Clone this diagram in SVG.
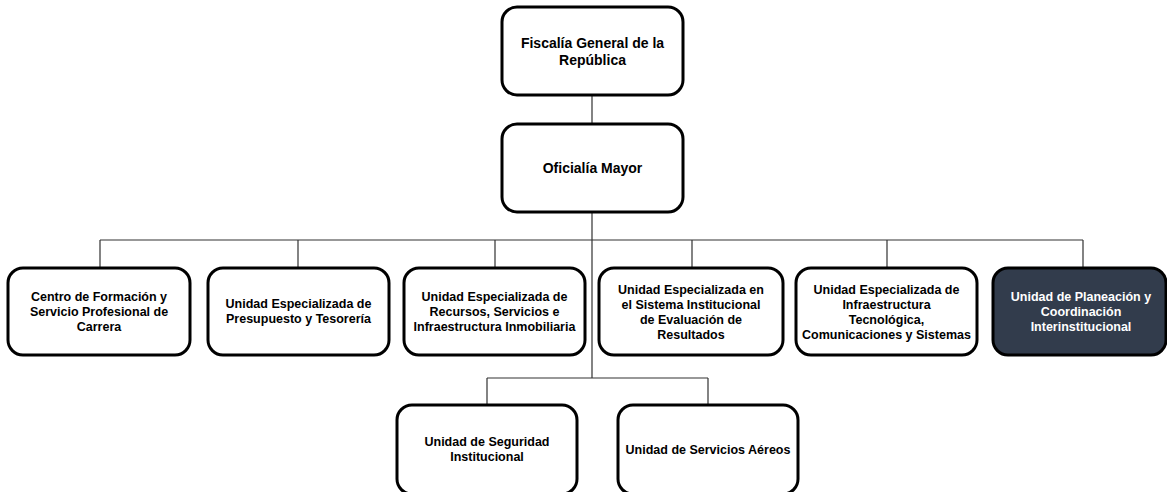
<svg xmlns="http://www.w3.org/2000/svg" width="1167" height="492" viewBox="0 0 1167 492">
<style>
.box{fill:#fff;stroke:#000;stroke-width:3}
.dark{fill:#323c4c;stroke:#000;stroke-width:3}
.t{font-family:"Liberation Sans",Arial,sans-serif;font-weight:bold;font-size:12.5px;text-anchor:middle;fill:#000}
.big{font-size:14px}
.w{fill:#fff}
.c{fill:none;stroke:#333;stroke-width:1.2}
</style>
<rect width="1167" height="492" fill="#fff"/>
<g id="connectors">
<path class="c" d="M592 95V123M592 212V378M100 240H1083M100 240V267M298 240V267M495 240V267M692 240V267M887 240V267M1083 240V267M487 378H708M487 378V405M708 378V405"/>
</g>
<g id="n1"><rect class="box" x="502" y="7" width="181" height="88" rx="15"/>
<text class="t big" x="592.5" y="48">Fiscalía General de la</text><text class="t big" x="592.5" y="65">República</text></g>
<g id="n2"><rect class="box" x="502" y="124" width="181" height="88" rx="15"/>
<text class="t big" x="592.5" y="173">Oficialía Mayor</text></g>
<g id="n3"><rect class="box" x="8" y="268" width="182" height="87" rx="15"/>
<text class="t" x="99" y="301">Centro de Formación y</text><text class="t" x="99" y="316">Servicio Profesional de</text><text class="t" x="99" y="331">Carrera</text></g>
<g id="n4"><rect class="box" x="208" y="268" width="181" height="87" rx="15"/>
<text class="t" x="298.5" y="308">Unidad Especializada de</text><text class="t" x="298.5" y="323">Presupuesto y Tesorería</text></g>
<g id="n5"><rect class="box" x="404" y="268" width="181" height="87" rx="15"/>
<text class="t" x="494.5" y="301">Unidad Especializada de</text><text class="t" x="494.5" y="316">Recursos, Servicios e</text><text class="t" x="494.5" y="331">Infraestructura Inmobiliaria</text></g>
<g id="n6"><rect class="box" x="599" y="268" width="184" height="87" rx="15"/>
<text class="t" x="691" y="294">Unidad Especializada en</text><text class="t" x="691" y="309">el Sistema Institucional</text><text class="t" x="691" y="324">de Evaluación de</text><text class="t" x="691" y="339">Resultados</text></g>
<g id="n7"><rect class="box" x="796" y="268" width="181" height="87" rx="15"/>
<text class="t" x="886.5" y="294">Unidad Especializada de</text><text class="t" x="886.5" y="309">Infraestructura</text><text class="t" x="886.5" y="324">Tecnológica,</text><text class="t" x="886.5" y="339">Comunicaciones y Sistemas</text></g>
<g id="n8"><rect class="dark" x="993" y="268" width="173" height="87" rx="15"/>
<text class="t w" x="1081" y="301">Unidad de Planeación y</text><text class="t w" x="1081" y="316">Coordinación</text><text class="t w" x="1081" y="331">Interinstitucional</text></g>
<g id="n9"><rect class="box" x="397" y="405" width="180" height="89" rx="15"/>
<text class="t" x="487" y="446">Unidad de Seguridad</text><text class="t" x="487" y="461">Institucional</text></g>
<g id="n10"><rect class="box" x="618" y="405" width="180" height="89" rx="15"/>
<text class="t" x="708" y="454">Unidad de Servicios Aéreos</text></g>
</svg>
